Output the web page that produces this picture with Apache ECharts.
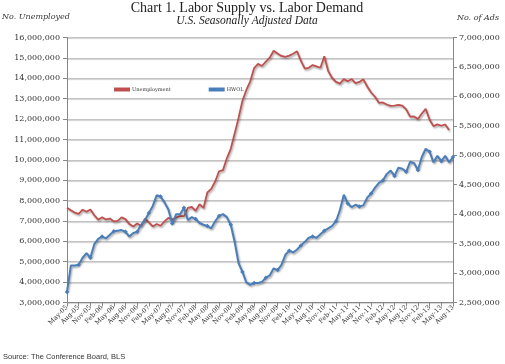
<!DOCTYPE html>
<html><head><meta charset="utf-8">
<script src="https://cdn.jsdelivr.net/npm/echarts@6/dist/echarts.min.js"></script>
<style>html,body{margin:0;padding:0;background:#fff}#c{width:505px;height:364px}</style>
</head><body><div id="c"></div>
<script>
var categories = [
'May-05','Jun-05','Jul-05','Aug-05','Sep-05','Oct-05','Nov-05','Dec-05',
'Jan-06','Feb-06','Mar-06','Apr-06','May-06','Jun-06','Jul-06','Aug-06','Sep-06','Oct-06','Nov-06','Dec-06',
'Jan-07','Feb-07','Mar-07','Apr-07','May-07','Jun-07','Jul-07','Aug-07','Sep-07','Oct-07','Nov-07','Dec-07',
'Jan-08','Feb-08','Mar-08','Apr-08','May-08','Jun-08','Jul-08','Aug-08','Sep-08','Oct-08','Nov-08','Dec-08',
'Jan-09','Feb-09','Mar-09','Apr-09','May-09','Jun-09','Jul-09','Aug-09','Sep-09','Oct-09','Nov-09','Dec-09',
'Jan-10','Feb-10','Mar-10','Apr-10','May-10','Jun-10','Jul-10','Aug-10','Sep-10','Oct-10','Nov-10','Dec-10',
'Jan-11','Feb-11','Mar-11','Apr-11','May-11','Jun-11','Jul-11','Aug-11','Sep-11','Oct-11','Nov-11','Dec-11',
'Jan-12','Feb-12','Mar-12','Apr-12','May-12','Jun-12','Jul-12','Aug-12','Sep-12','Oct-12','Nov-12','Dec-12',
'Jan-13','Feb-13','Mar-13','Apr-13','May-13','Jun-13','Jul-13','Aug-13'];

// Unemployed (thousands)
var unemployment = [
7651,7524,7406,7345,7553,7453,7566,7279,
7064,7184,7072,7120,6980,7001,7175,7091,6847,6727,6872,6762,
7116,6927,6731,6850,6766,6979,7149,7067,7170,7237,7240,7645,
7685,7497,7822,7637,8395,8575,8937,9438,9494,10074,10538,11286,
12058,12898,13426,13853,14499,14707,14601,14814,15009,15352,15219,15098,
15046,15113,15202,15325,14849,14474,14512,14648,14579,14516,15081,14348,
14013,13820,13737,13957,13855,13962,13763,13818,13948,13594,13302,13093,
12797,12813,12713,12646,12660,12692,12656,12471,12115,12124,12005,12272,
12497,11967,11653,11735,11671,11736,11460];

// HWOL ads (millions)
var hwol = [
2.68,3.13,3.13,3.14,3.26,3.34,3.26,3.49,
3.58,3.62,3.59,3.65,3.71,3.72,3.73,3.70,3.62,3.68,3.70,3.82,
3.90,4.02,4.14,4.32,4.30,4.20,4.08,3.84,4.00,4.00,4.11,3.90,
3.95,3.92,3.85,3.82,3.80,3.76,3.88,3.97,4.00,3.95,3.82,3.53,
3.17,3.02,2.84,2.80,2.83,2.83,2.85,2.92,2.96,3.08,3.05,3.14,
3.31,3.38,3.35,3.40,3.47,3.53,3.60,3.62,3.60,3.66,3.72,3.76,
3.80,3.88,4.07,4.33,4.18,4.12,4.16,4.13,4.15,4.28,4.35,4.45,
4.53,4.57,4.68,4.74,4.65,4.79,4.77,4.72,4.89,4.87,4.75,4.97,
5.11,5.06,4.88,4.99,4.90,4.99,4.88,4.97];

var leftMin = 3000000, leftMax = 16000000, leftStep = 1000000;
var rightMin = 2500000, rightMax = 7000000, rightStep = 500000;

function fmt(v){ return String(Math.round(v)).replace(/\B(?=(\d{3})+(?!\d))/g, ','); }

var serif = "'DejaVu Serif', Georgia, serif";
var chart = echarts.init(document.getElementById('c'), null, {renderer:'canvas'});
chart.setOption({
  animation: false,
  backgroundColor: '#fff',
  grid: {left: 67, right: 52, top: 37.5, bottom: 61.5, containLabel: false},
  graphic: [
    {type:'text', x:247, y:8, style:{text:'Chart 1. Labor Supply vs. Labor Demand', font:"14px 'Liberation Serif', serif", fill:'#222', align:'center', verticalAlign:'middle', textAlign:'center', textVerticalAlign:'middle'}},
    {type:'text', x:247, y:20.5, style:{text:'U.S. Seasonally Adjusted Data', font:"italic 11.5px 'Liberation Serif', serif", fill:'#222', align:'center', verticalAlign:'middle', textAlign:'center', textVerticalAlign:'middle'}},
    {type:'text', x:2, y:16.5, style:{text:'No. Unemployed', font:"italic 8px " + serif, fill:'#333', align:'left', verticalAlign:'middle', textAlign:'left', textVerticalAlign:'middle'}},
    {type:'text', x:499, y:18, style:{text:'No. of Ads', font:"italic 8px " + serif, fill:'#333', align:'right', verticalAlign:'middle', textAlign:'right', textVerticalAlign:'middle'}},
    {type:'text', x:3, y:357, style:{text:'Source: The Conference Board, BLS', font:"7.5px 'Liberation Sans', sans-serif", fill:'#333', align:'left', verticalAlign:'middle', textAlign:'left', textVerticalAlign:'middle'}}
  ],
  legend: {
    data: ['Unemployment', 'HWOL'],
    left: 114, top: 87, itemWidth: 16, itemHeight: 4, itemGap: 38, padding: 0,
    icon: 'rect',
    textStyle: {fontSize: 5, color: '#333', fontFamily: serif, padding: [0,0,0,-3]}
  },
  xAxis: {
    type: 'category', data: categories, boundaryGap: false,
    axisLine: {lineStyle: {color: '#888', width: 1}},
    axisTick: {show: true, interval: 2, length: 4, lineStyle: {color: '#888'}},
    axisLabel: {interval: 2, rotate: 45, fontSize: 6.5, fontFamily: serif, color: '#333', margin: 4}
  },
  yAxis: [
    {type:'value', min:leftMin, max:leftMax, interval:leftStep, position:'left',
     axisLine:{show:true, lineStyle:{color:'#888'}}, axisTick:{show:true, length:4, lineStyle:{color:'#888'}},
     axisLabel:{formatter: fmt, fontSize:8, fontFamily:serif, color:'#333', margin:7},
     splitLine:{show:true, lineStyle:{color:'#c4c4c4', width:1.2, shadowColor:'rgba(0,0,0,0.2)', shadowOffsetY:1, shadowBlur:1}}},
    {type:'value', min:rightMin, max:rightMax, interval:rightStep, position:'right',
     axisLine:{show:true, lineStyle:{color:'#888'}}, axisTick:{show:true, length:4, lineStyle:{color:'#888'}},
     axisLabel:{formatter: fmt, fontSize:8, fontFamily:serif, color:'#333', margin:6},
     splitLine:{show:false}}
  ],
  series: [
    {name:'Unemployment', type:'line', yAxisIndex:0,
     data: unemployment.map(function(v){return v*1000;}),
     showSymbol:false, symbol:'none',
     lineStyle:{color:'#c0504d', width:1.8, shadowColor:'rgba(0,0,0,0.35)', shadowBlur:2, shadowOffsetX:1, shadowOffsetY:1.5},
     itemStyle:{color:'#c0504d'}},
    {name:'HWOL', type:'line', yAxisIndex:1,
     data: hwol.map(function(v){return Math.round(v*1000000);}),
     symbol:'diamond', symbolSize:4.5, showSymbol:true,
     lineStyle:{color:'#4a7ebb', width:2, shadowColor:'rgba(0,0,0,0.35)', shadowBlur:2, shadowOffsetX:1, shadowOffsetY:1.5},
     itemStyle:{color:'#4a7ebb'}}
  ]
});
</script>
</body></html>
